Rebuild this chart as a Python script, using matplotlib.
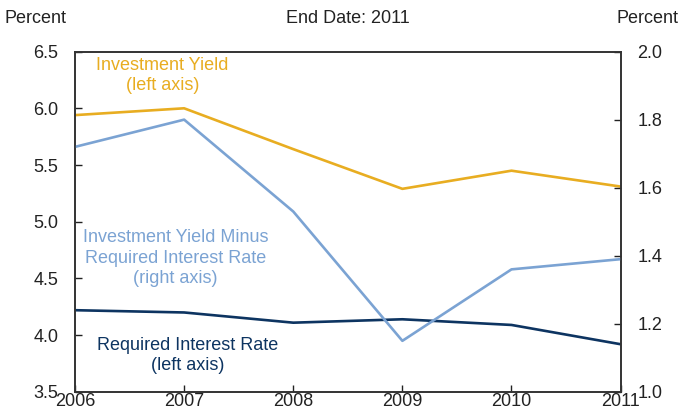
"""Investment yield vs required interest rate, dual axis line chart."""

import matplotlib

matplotlib.use("Agg")
import matplotlib.pyplot as plt

plt.rcParams["font.family"] = ["Liberation Sans", "DejaVu Sans"]

years = [2006, 2007, 2008, 2009, 2010, 2011]
investment_yield = [5.94, 6.00, 5.64, 5.29, 5.45, 5.31]
required_rate = [4.22, 4.20, 4.11, 4.14, 4.09, 3.92]
yield_minus_rate = [1.72, 1.80, 1.53, 1.15, 1.36, 1.39]

GOLD = "#E8AD21"
LIGHT = "#7BA3D3"
NAVY = "#0D3461"
FS = 13


def main() -> None:
    fig = plt.figure(figsize=(6.82, 4.16), dpi=100)
    ax = fig.add_axes([0.110, 0.058, 0.800, 0.818])
    ax2 = ax.twinx()

    ax.plot(years, investment_yield, color=GOLD, lw=1.9)
    ax.plot(years, required_rate, color=NAVY, lw=1.9)
    ax2.plot(years, yield_minus_rate, color=LIGHT, lw=1.9)

    ax.set_xlim(2006, 2011)
    ax.set_ylim(3.5, 6.5)
    ax.set_yticks([3.5, 4.0, 4.5, 5.0, 5.5, 6.0, 6.5])
    ax.set_yticklabels([f"{v:.1f}" for v in ax.get_yticks()])
    ax2.set_ylim(1.0, 2.0)
    ax2.set_yticks([1.0, 1.2, 1.4, 1.6, 1.8, 2.0])
    ax2.set_yticklabels([f"{v:.1f}" for v in ax2.get_yticks()])
    ax.set_xticks(years)

    ax.tick_params(axis="y", direction="in", length=5, width=1, pad=12, labelsize=FS, colors="#222222")
    ax.tick_params(axis="x", direction="in", length=5, width=1, pad=1, labelsize=FS, colors="#222222")
    ax2.tick_params(axis="y", direction="in", length=5, width=1, pad=12, labelsize=FS, colors="#222222")
    for a in (ax, ax2):
        for s in a.spines.values():
            s.set_linewidth(1.2)
            s.set_color("#333333")

    ax.text(2006.8, 6.29, "Investment Yield\n(left axis)", color=GOLD, fontsize=FS,
            ha="center", va="center", linespacing=1.25)
    ax.text(2006.92, 4.68, "Investment Yield Minus\nRequired Interest Rate\n(right axis)",
            color=LIGHT, fontsize=FS, ha="center", va="center", linespacing=1.25)
    ax.text(2007.03, 3.82, "Required Interest Rate\n(left axis)", color=NAVY, fontsize=FS,
            ha="center", va="center", linespacing=1.25)

    fig.text(0.007, 0.955, "Percent", fontsize=FS, ha="left", va="center", color="#222222")
    fig.text(0.51, 0.955, "End Date: 2011", fontsize=FS, ha="center", va="center", color="#222222")
    fig.text(0.995, 0.955, "Percent", fontsize=FS, ha="right", va="center", color="#222222")

    fig.savefig("out.png", dpi=100)
    plt.close(fig)


if __name__ == "__main__":
    main()
